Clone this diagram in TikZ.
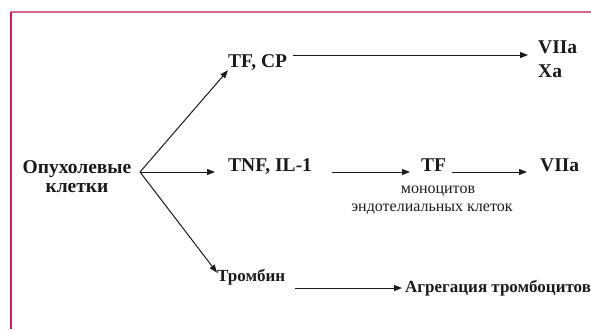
\documentclass[tikz,border=0pt]{standalone}
\usepackage{fontspec}
\setmainfont{Liberation Serif}
\usetikzlibrary{arrows.meta}
\definecolor{frametop}{HTML}{D8628A}
\definecolor{frameleft}{HTML}{E0145C}
\definecolor{ink}{HTML}{1A1A1A}
\tikzset{
  big/.style={font=\bfseries\fontsize{19.5bp}{19bp}\selectfont, inner sep=0pt, text=ink},
  mid/.style={font=\bfseries\fontsize{17bp}{19bp}\selectfont, inner sep=0pt, text=ink},
  note/.style={font=\fontsize{16bp}{18bp}\selectfont, inner sep=0pt, text=ink},
  flow/.style={draw=ink, line width=1bp, -{Triangle[length=8bp,width=6bp]}}
}
\begin{document}
\begin{tikzpicture}[x=1bp,y=-1bp]
\useasboundingbox (0,0) rectangle (591,329);
% frame
\draw[frametop, line width=1.6bp] (11,12) -- (591,12);
\draw[frameleft, line width=1.6bp] (11,12) -- (11,329);

% source (base anchor sits on the second line)
\node[big, align=center, anchor=base] (tumor) at (77,192) {Опухолевые\\клетки};
\coordinate (j) at (140,172);

% upper branch
\node[big, anchor=base west] (tfcp) at (228,67) {TF, CP};
\node[big, anchor=base west] (viia1) at (538,53) {VIIa};
\node[big, anchor=base west] (xa) at (538,77) {Xa};

% middle branch
\node[big, anchor=base west] (tnf) at (228,171) {TNF, IL-1};
\node[big, anchor=base west] (tf) at (421,171) {TF};
\node[big, anchor=base west] (viia2) at (540,171) {VIIa};
\node[note, anchor=base] (mono) at (438,193) {моноцитов};
\node[note, anchor=base] (endo) at (432,211) {эндотелиальных клеток};

% lower branch
\node[mid, anchor=base west] (thr) at (217,281) {Тромбин};
\node[mid, anchor=base west] (agg) at (405,292) {Агрегация тромбоцитов};

% connectors
\draw[flow] (j) -- (tfcp.south west);
\draw[flow] (j) -- ([xshift=-13bp]tnf.west |- j);
\draw[flow] (j) -- ([yshift=-4bp]thr.north west);
\draw[flow] ([xshift=6bp]tfcp.east |- 0,55) -- ([xshift=-10bp]viia1.west |- 0,55);
\draw[flow] ([xshift=20bp]tnf.east |- j) -- ([xshift=-11bp]tf.west |- j);
\draw[flow] ([xshift=6bp]tf.east |- j) -- ([xshift=-13bp]viia2.west |- j);
\draw[flow] ([xshift=10bp]thr.east |- 0,288) -- ([xshift=-3bp]agg.west |- 0,288);
\end{tikzpicture}
\end{document}
